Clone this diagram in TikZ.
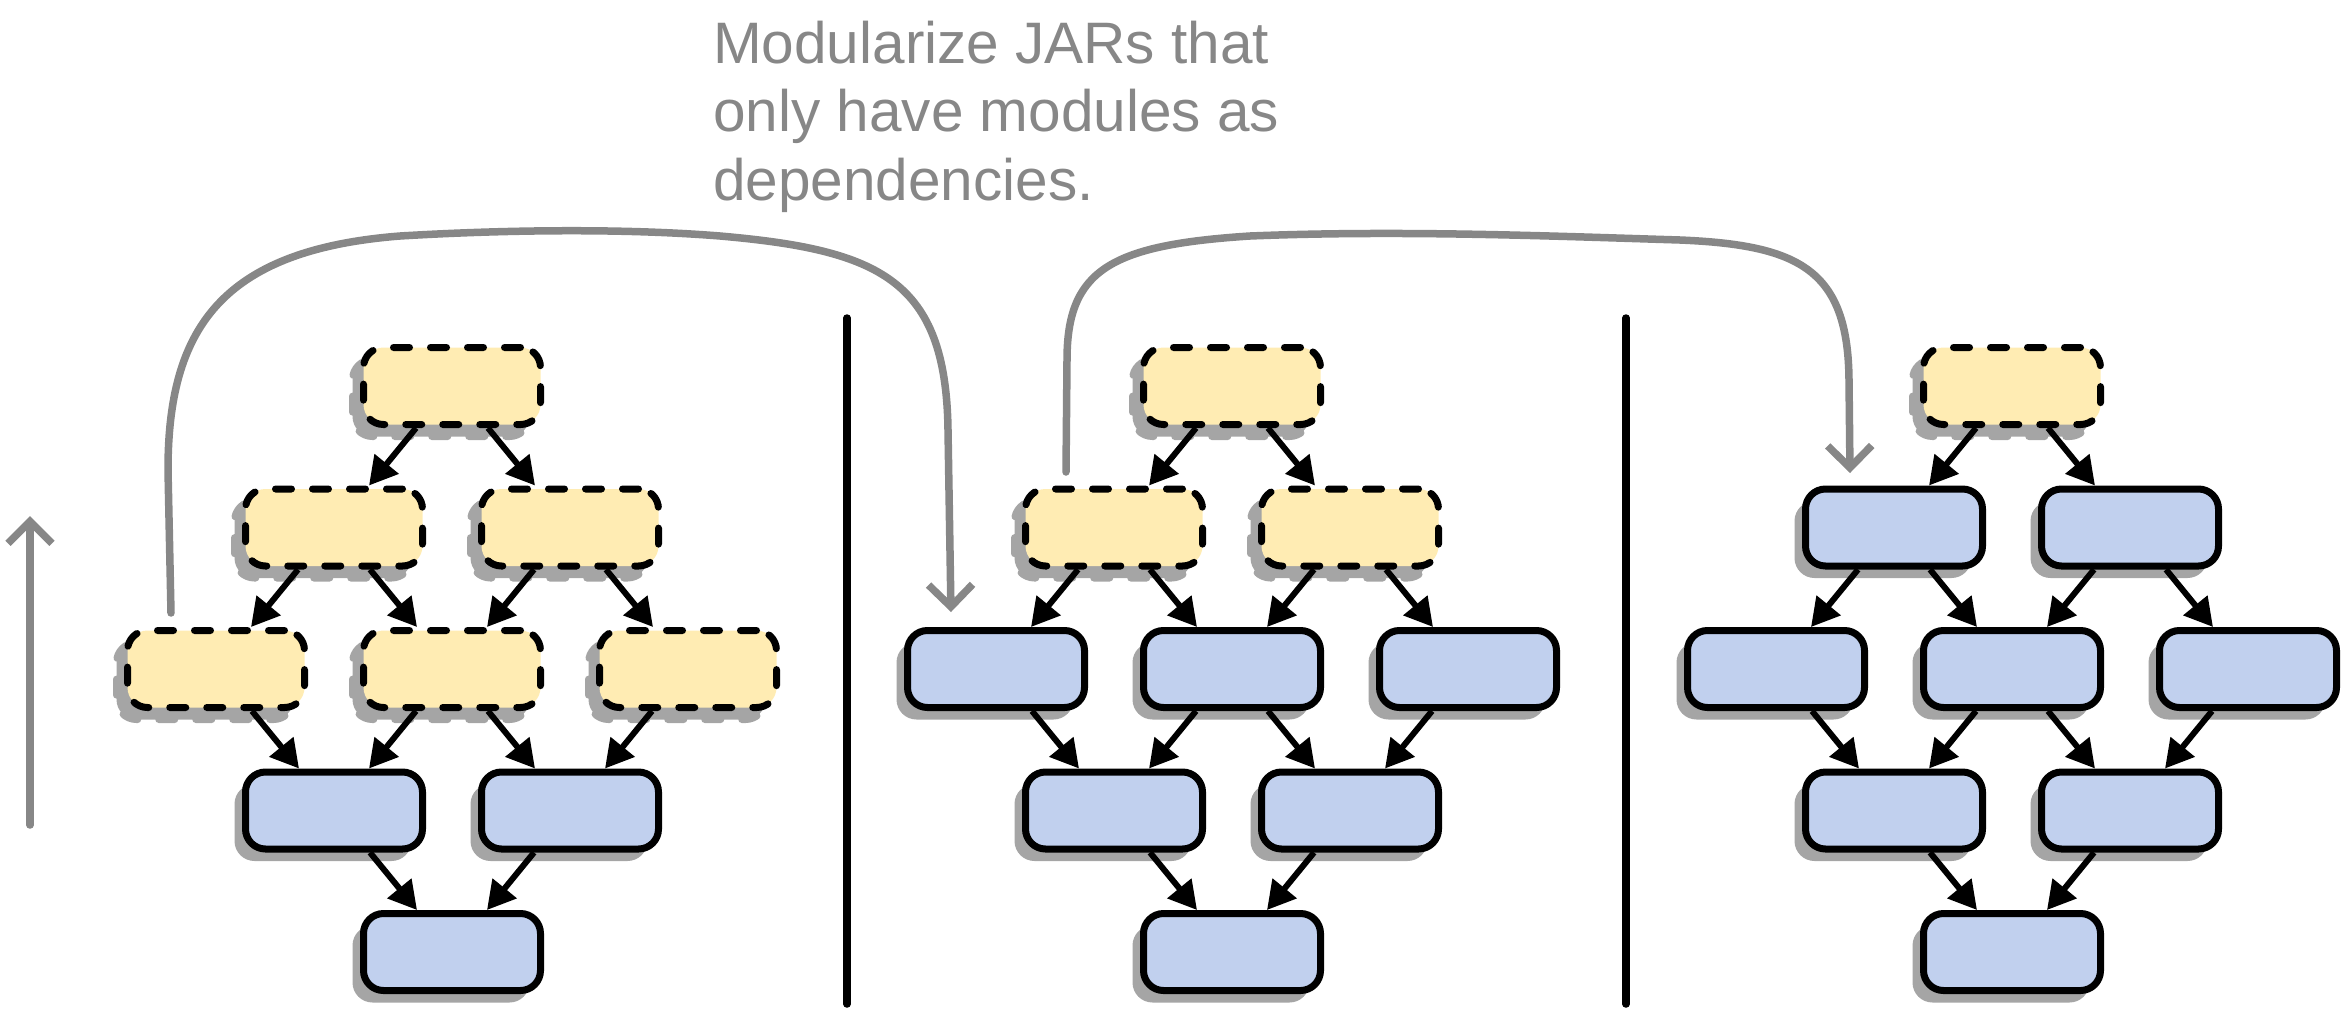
\documentclass[tikz,border=0pt]{standalone}
\usepackage{fontspec}
\setmainfont{Liberation Sans}
\usetikzlibrary{arrows.meta,shadows}
\definecolor{jaryellow}{HTML}{FFECB3}
\definecolor{modblue}{HTML}{C1D0EE}
\definecolor{shadowgray}{HTML}{A5A5A5}
\definecolor{curvegray}{HTML}{878787}
\tikzset{
  boxbase/.style={rectangle, rounded corners=20pt, minimum width=177pt, minimum height=77pt, line width=7pt, inner sep=0pt},
  modbox/.style={boxbase, draw=black, fill=modblue,
    drop shadow={shadow xshift=-11pt, shadow yshift=-12pt, fill=shadowgray, opacity=1}},
  jarbox/.style={boxbase, draw=black, fill=jaryellow, dash pattern=on 16pt off 21pt, line cap=round,
    drop shadow={shadow xshift=-11pt, shadow yshift=-12pt, fill=shadowgray, draw=shadowgray, line width=7pt, dash pattern=on 16pt off 21pt, line cap=round, opacity=1}},
  dep/.style={line width=6pt, -{Triangle[length=28pt,width=30pt]}},
  flow/.style={draw=curvegray, line width=7.5pt, line cap=round, line join=round, -{Straight Barb[length=22pt,width=44pt]}},
  sepline/.style={line width=7.5pt, line cap=round},
  note/.style={text=curvegray, font=\fontsize{58.5pt}{68.5pt}\selectfont, anchor=base west, inner sep=0pt}
}
\begin{document}
\begin{tikzpicture}[x=1pt,y=-1pt]
\useasboundingbox (0,0) rectangle (2343,1013);
% text
\node[note] (t1) at (713,63) {Modularize JARs that};
\node[note] (t2) at (713,131.5) {only have modules as};
\node[note] (t3) at (713,200) {dependencies.};
% panel 1 (center 452)
\node[jarbox] (1-A)  at (452,386) {};
\node[jarbox] (1-B1) at (334,527.5) {};
\node[jarbox] (1-B2) at (570,527.5) {};
\node[jarbox] (1-C1) at (216,669) {};
\node[jarbox] (1-C2) at (452,669) {};
\node[jarbox] (1-C3) at (688,669) {};
\node[modbox] (1-D1) at (334,810.5) {};
\node[modbox] (1-D2) at (570,810.5) {};
\node[modbox] (1-E)  at (452,952) {};
% panel 2 (center 1232)
\node[jarbox] (2-A)  at (1232,386) {};
\node[jarbox] (2-B1) at (1114,527.5) {};
\node[jarbox] (2-B2) at (1350,527.5) {};
\node[modbox] (2-C1) at (996,669) {};
\node[modbox] (2-C2) at (1232,669) {};
\node[modbox] (2-C3) at (1468,669) {};
\node[modbox] (2-D1) at (1114,810.5) {};
\node[modbox] (2-D2) at (1350,810.5) {};
\node[modbox] (2-E)  at (1232,952) {};
% panel 3 (center 2012)
\node[jarbox] (3-A)  at (2012,386) {};
\node[modbox] (3-B1) at (1894,527.5) {};
\node[modbox] (3-B2) at (2130,527.5) {};
\node[modbox] (3-C1) at (1776,669) {};
\node[modbox] (3-C2) at (2012,669) {};
\node[modbox] (3-C3) at (2248,669) {};
\node[modbox] (3-D1) at (1894,810.5) {};
\node[modbox] (3-D2) at (2130,810.5) {};
\node[modbox] (3-E)  at (2012,952) {};
% dependency arrows
\foreach \p in {1,2,3} {
  \foreach \a/\b in {A/B1, B1/C1, B2/C2, C2/D1, C3/D2, D2/E}
    \draw[dep] ([xshift=-36pt]\p-\a.south) -- ([xshift=35pt]\p-\b.north);
  \foreach \a/\b in {A/B2, B1/C2, B2/C3, C1/D1, C2/D2, D1/E}
    \draw[dep] ([xshift=36pt]\p-\a.south) -- ([xshift=-35pt]\p-\b.north);
}
% separators
\coordinate (s1t) at (847,318); \coordinate (s1b) at (847,1004);
\coordinate (s2t) at (1626,318); \coordinate (s2b) at (1626,1004);
\draw[sepline] (s1t) -- (s1b);
\draw[sepline] (s2t) -- (s2b);
% left upward arrow
\coordinate (ls) at (30,825); \coordinate (le) at (30,516);
\draw[flow] (ls) -- (le);
% curved arrow 1
\coordinate (c1s) at (171,613); \coordinate (c1e) at (951,612);
\draw[flow] (c1s) -- (168,470) .. controls (168,330) and (220,250) .. (400,236)
  .. controls (500,230) and (620,228) .. (720,236)
  .. controls (880,250) and (946,280) .. (948,430) -- (c1e);
% curved arrow 2
\coordinate (c2s) at (1066,472); \coordinate (c2e) at (1850,473);
\draw[flow] (c2s) -- (1067,360) .. controls (1067,270) and (1110,245) .. (1250,236)
  .. controls (1400,230) and (1550,236) .. (1680,240)
  .. controls (1800,245) and (1848,270) .. (1849,380) -- (c2e);
\end{tikzpicture}
\end{document}
